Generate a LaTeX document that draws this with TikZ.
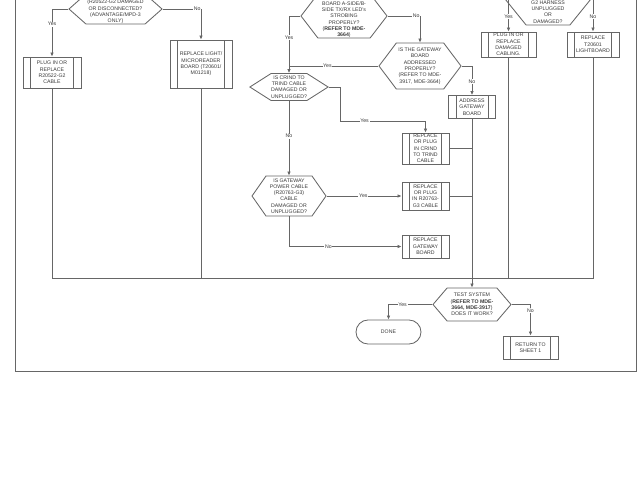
\documentclass[tikz,border=0pt]{standalone}
\usepackage{fontspec}
\setmainfont{Liberation Sans}
\usetikzlibrary{arrows.meta,shapes.symbols}
\definecolor{linegray}{HTML}{666666}
\definecolor{textgray}{HTML}{383838}

\begin{document}
\begin{tikzpicture}[
  x=1pt, y=-1pt,
  font=\fontsize{5.2}{6.3}\selectfont,
  every node/.style={text=textgray, align=center, inner sep=0pt},
  line/.style={draw=linegray, line width=0.85pt},
  flow/.style={line, -{Latex[length=4pt,width=3.6pt]}},
  boxsize/.style 2 args={minimum width=#1pt, minimum height=#2pt},
  decision/.style={signal, signal to=east and west, draw=linegray,
    line width=0.85pt, signal pointer angle=#1},
  decision/.default=100,
  procbox/.style={rectangle, draw=linegray, line width=0.85pt,
    path picture={
      \draw[linegray, line width=0.85pt]
        ([xshift=7.5pt]path picture bounding box.north west) --
        ([xshift=7.5pt]path picture bounding box.south west)
        ([xshift=-7.5pt]path picture bounding box.north east) --
        ([xshift=-7.5pt]path picture bounding box.south east);
    }},
  terminal/.style={rectangle, rounded corners=12pt, draw=linegray, line width=0.85pt},
  tag/.style={fill=white, inner sep=0.7pt},
]
  \useasboundingbox (0,0) rectangle (640,480);
  \clip (0,0) rectangle (640,480);

  % sheet frame
  \draw[line, line width=1pt] (15,-20) rectangle (636,371);

  % left column (top of the questions runs off the sheet)
  \node[decision=83, boxsize={93}{30}] (qa) at (115.5,9) {};
  \node[anchor=south] (qatext) at (115.5,24)
    {(R20522-G2 DAMAGED\\OR DISCONNECTED?\\(ADVANTAGE/MPD-3\\ONLY)};
  \node[procbox, boxsize={58}{31}] (plugr) at (52,72.5)
    {PLUG IN OR\\REPLACE\\R20522-G2\\CABLE};
  \node[procbox, boxsize={62}{48}] (lightb) at (201,64)
    {REPLACE LIGHT/\\MICROREADER\\BOARD (T20601/\\M01218)};

  % middle column
  \node[decision=105, boxsize={86}{44}] (qb) at (344,16) {};
  \node[anchor=south] (qbtext) at (344,38)
    {BOARD A-SIDE/B-\\SIDE TX/RX LED's\\STROBING\\PROPERLY?\\(\textbf{REFER TO MDE-}\\\textbf{3664})};
  \node[decision=106, boxsize={82}{46}] (qgw) at (420,66)
    {IS THE GATEWAY\\BOARD\\ADDRESSED\\PROPERLY?\\(REFER TO MDE-\\3917, MDE-3664)};
  \node[procbox, boxsize={47}{23}] (addgw) at (472,107)
    {ADDRESS\\GATEWAY\\BOARD};
  \node[decision=65, boxsize={73}{27}] (qc) at (289,87)
    {IS CRIND TO\\TRIND CABLE\\DAMAGED OR\\UNPLUGGED?};
  \node[procbox, boxsize={47}{31}] (repcr) at (425.5,148.5)
    {REPLACE\\OR PLUG\\IN CRIND\\TO TRIND\\CABLE};
  \node[decision=110, boxsize={74}{40}] (qd) at (289,196)
    {IS GATEWAY\\POWER CABLE\\(R20763-G3)\\CABLE\\DAMAGED OR\\UNPLUGGED?};
  \node[procbox, boxsize={47}{28}] (reppw) at (425.5,196)
    {REPLACE\\OR PLUG\\IN R20763-\\G3 CABLE};
  \node[procbox, boxsize={47}{23}] (repgw) at (425.5,246.5)
    {REPLACE\\GATEWAY\\BOARD};

  % right column
  \node[decision=102, boxsize={94}{62}] (qe) at (548,-6) {};
  \node[anchor=south] (qetext) at (548,23.5)
    {G2 HARNESS\\UNPLUGGED\\OR\\DAMAGED?};
  \node[procbox, boxsize={55}{25}] (plugdc) at (508.5,44.5)
    {PLUG IN OR\\REPLACE\\DAMAGED\\CABLING.};
  \node[procbox, boxsize={52}{25}] (replb) at (593,44.5)
    {REPLACE\\T20601\\LIGHTBOARD};

  % test and end
  \node[decision=99, boxsize={78}{33}] (qt) at (472,304.5)
    {TEST SYSTEM\\(\textbf{REFER TO MDE-}\\\textbf{3664, MDE-3917})\\DOES IT WORK?};
  \node[terminal, boxsize={65}{24}] (done) at (388.5,332) {DONE};
  \node[procbox, boxsize={55}{23}] (ret) at (530.5,347.5) {RETURN TO\\SHEET 1};
  \coordinate (jc) at (472,278);

  % decisions
  \draw[flow] (qa.west) -| node[tag, pos=0.66] {Yes} (plugr.north);
  \draw[flow] (qa.east) -| node[tag, pos=0.45] {No} (lightb.north);
  \draw[flow] (qb.west) -| node[tag, pos=0.69] {Yes} (qc.north);
  \draw[flow] (qb.east) -| node[tag, pos=0.44] {No} (qgw.north);
  \draw[line] (qgw.west) -- node[tag, pos=0.57] {Yes} (qgw.west -| qc.north);
  \draw[flow] (qgw.east) -| node[tag, pos=0.77] {No} (addgw.north);
  \draw[flow] (qc.east) -- ++(12,0) -- ++(0,34) -| node[tag, pos=0.14] {Yes} (repcr.north);
  \draw[flow] (qc.south) -- node[tag, pos=0.47] {No} (qd.north);
  \draw[flow] (qd.east) -- node[tag, pos=0.49] {Yes} (reppw.west);
  \draw[flow] (qd.south) |- node[tag, pos=0.675] {No} (repgw.west);
  \draw[flow] (qe.west) -| node[tag, pos=0.8] {Yes} (plugdc.north);
  \draw[flow] (qe.east) -| node[tag, pos=0.8] {No} (replb.north);

  % back to the test
  \draw[line] (plugr.south) |- (replb.south |- jc) -- (replb.south);
  \foreach \b in {lightb, plugdc}
    \draw[line] (\b.south) -- (\b.south |- jc);
  \foreach \b in {repcr, reppw}
    \draw[line] (\b.east) -- (\b.east -| addgw.south);
  \draw[flow] (addgw.south) -- (qt.north);

  \draw[flow] (qt.west) -| node[tag, pos=0.34] {Yes} (done.north);
  \draw[flow] (qt.east) -| node[tag, pos=0.6] {No} (ret.north);
\end{tikzpicture}
\end{document}
